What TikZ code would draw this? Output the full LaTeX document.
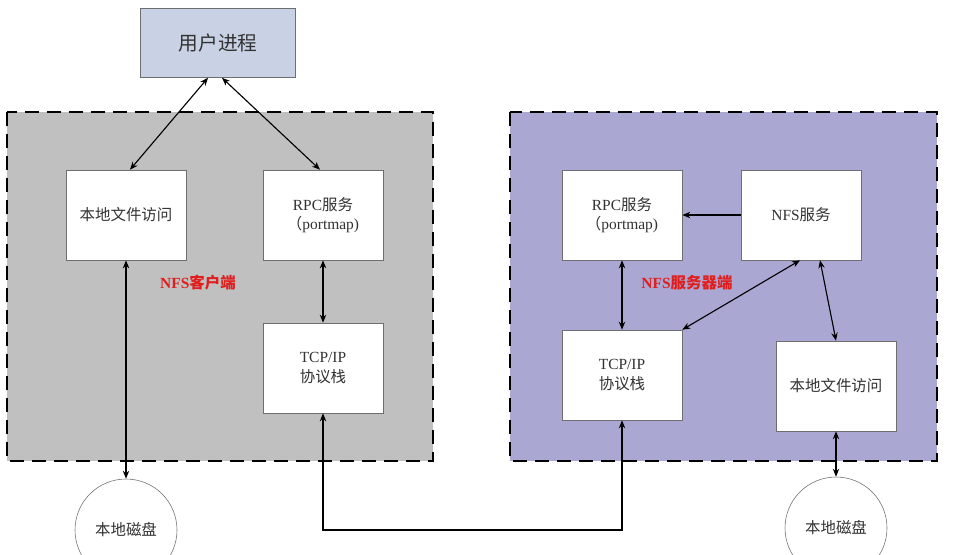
\documentclass[tikz,border=0pt]{standalone}
\usepackage{fontspec}
\setmainfont{Liberation Serif}
\newfontfamily\cjk{Noto Sans CJK SC}
\usetikzlibrary{arrows.meta}
\definecolor{cuser}{RGB}{200,210,228}
\definecolor{ccli}{RGB}{192,192,192}
\definecolor{csrv}{RGB}{170,168,210}
\definecolor{ctext}{RGB}{50,50,50}
\definecolor{cred}{RGB}{225,30,30}
\definecolor{cedge}{RGB}{110,110,110}

\begin{document}
\begin{tikzpicture}[font=\fontsize{11}{14}\selectfont, >={Stealth[length=2mm,width=1.6mm]},
    region/.style={draw=black, line width=1.6pt, dash pattern=on 3.6mm off 1.9mm},
    svcbox/.style={draw=cedge, fill=white, align=center, minimum width=3cm, minimum height=2.25cm, text=ctext},
    disk/.style={draw=cedge, circle, fill=white, minimum size=2.55cm, text=ctext},
    side/.style={text=cred, font=\fontsize{11}{14}\selectfont\bfseries},
    link/.style={<->, thick}]

  \useasboundingbox (0,0) rectangle (23.85,-13.85);

  % client and server areas
  \draw[region, fill=ccli] (0.175,-2.8) rectangle (10.825,-11.525);
  \draw[region, fill=csrv] (12.75,-2.8) rectangle (23.425,-11.525);

  \node[draw=cedge, fill=cuser, minimum width=3.875cm, minimum height=1.725cm,
        text=ctext, font=\fontsize{14}{16}\selectfont] (userp) at (5.45,-1.075) {\cjk 用户进程};

  % client
  \node[svcbox] (clocal) at (3.15,-5.375) {\cjk 本地文件访问};
  \node[svcbox] (crpc) at (8.075,-5.375) {RPC{\cjk 服务}\\{\cjk （}portmap)};
  \node[svcbox] (ctcp) at (8.075,-9.2) {TCP/IP\\{\cjk 协议栈}};
  \node[side] (clabel) at (4.95,-7.075) {NFS{\cjk 客户端}};
  \node[disk] (cdisk) at (3.15,-13.25) {\cjk 本地磁盘};

  % server
  \node[svcbox] (srpc) at (15.55,-5.375) {RPC{\cjk 服务}\\{\cjk （}portmap)};
  \node[svcbox] (snfs) at (20.025,-5.375) {NFS{\cjk 服务}};
  \node[svcbox] (stcp) at (15.55,-9.375) {TCP/IP\\{\cjk 协议栈}};
  \node[svcbox] (slocal) at (20.9,-9.65) {\cjk 本地文件访问};
  \node[side] (slabel) at (17.175,-7.075) {NFS{\cjk 服务器端}};
  \node[disk] (sdisk) at (20.9,-13.2) {\cjk 本地磁盘};

  \draw[link] ([xshift=-0.25cm]userp.south) -- ([xshift=0.1cm]clocal.north);
  \draw[link] ([xshift=0.1cm]userp.south) -- ([xshift=-0.075cm]crpc.north);
  \draw[link] (clocal.south) -- (cdisk.north);
  \draw[link] (crpc.south) -- (ctcp.north);
  \draw[link] (ctcp.south) -- (8.075,-13.25) -| (stcp.south);

  \draw[->, thick] (snfs.west) -- (srpc.east);
  \draw[link] (srpc.south) -- (stcp.north);
  \draw[link] ([xshift=-0.025cm]snfs.south) -- (stcp.north east);
  \draw[link] ([xshift=0.475cm]snfs.south) -- (slocal.north);
  \draw[link] (slocal.south) -- (sdisk.north);
\end{tikzpicture}
\end{document}
